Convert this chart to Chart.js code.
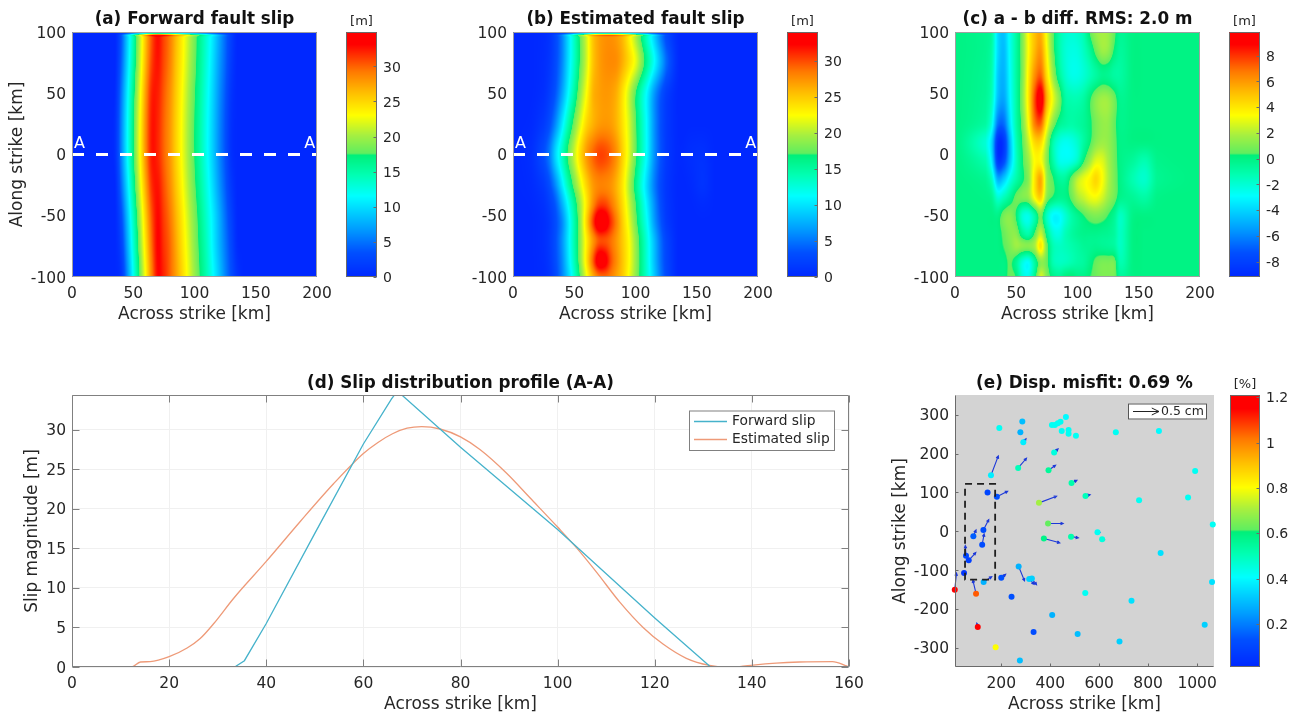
<!DOCTYPE html>
<html>
<head>
<meta charset="utf-8">
<title>Fault slip figure</title>
<script src="https://cdn.jsdelivr.net/npm/chart.js@4/dist/chart.umd.min.js"></script>
<style>
  html, body { margin: 0; padding: 0; background: #fff; }
  #page { position: relative; width: 1297px; height: 712px; overflow: hidden; }
  #page canvas { position: absolute; }
</style>
</head>
<body>
<div id="page"></div>
<script>
// ── tick labels ──────────────────────────────────────────
const fieldTicksX = [0, 50, 100, 150, 200];
const fieldTicksY = [-100, -50, 0, 50, 100];
const barTicksA = [0, 5, 10, 15, 20, 25, 30];
const barTicksB = [0, 5, 10, 15, 20, 25, 30];
const barTicksC = [-8, -6, -4, -2, 0, 2, 4, 6, 8];
const barTicksE = [0.2, 0.4, 0.6, 0.8, 1, 1.2];
const profileTicksX = [0, 20, 40, 60, 80, 100, 120, 140, 160];
const profileTicksY = [0, 5, 10, 15, 20, 25, 30];
const misfitTicksX = [200, 400, 600, 800, 1000];
const misfitTicksY = [-300, -200, -100, 0, 100, 200, 300];

// ── (a) forward slip grid ────────────────────────────────
const slipAX = [0, 30, 35, 40, 45, 50, 55, 60, 65, 70, 75, 80, 85, 90, 95, 100, 105, 110, 115, 120, 125, 130, 135, 140, 200];
const slipAY = [100, 97.5, 96, 75, 50, 25, 0, -25, -50, -75, -100];
const slipARows = [
  [0,0,0,0,0,0,0,0,0,0,0,0,0,0,0,0,0,0,0,0,0,0,0,0,0],
  [0,0,0,3.5,9,14.6,20.3,26,30.5,32.8,31,29.1,26.3,23.7,21.1,18.4,15.8,13.1,10.4,7.4,4.6,1.9,0,0,0],
  [0,0,0,3.5,9,14.6,20.3,26,30.5,32.8,31,29.1,26.3,23.7,21.1,18.4,15.8,13.1,10.4,7.4,4.6,1.9,0,0,0],
  [0,0,0,4,9.5,15.2,20.8,26.5,31,32.6,30.8,28.9,26,23.5,20.8,18.2,15.6,12.8,10,7,4.4,1.6,0,0,0],
  [0,0,.3,5,10.6,16.3,21.9,27.6,32,32.2,30.3,28.3,25.6,23,20.3,17.7,15.1,12.3,9.5,6.5,3.9,1.1,0,0,0],
  [0,0,.6,5.5,11.2,16.9,22.5,28.2,32.4,32,30,28,25.3,22.7,20,17.4,14.8,12,9.2,6.2,3.6,.8,0,0,0],
  [0,0,.6,5.5,11.2,16.9,22.5,28.2,32.4,32,30,28,25.3,22.7,20,17.4,14.8,12,9.2,6.2,3.6,.8,0,0,0],
  [0,0,.1,4.5,10,15.8,21.4,27,31.6,32.6,30.6,28.5,25.8,23.2,20.5,17.9,15.3,12.6,9.8,6.8,4.1,1.4,0,0,0],
  [0,0,0,3,8.4,14.1,19.7,25.4,30.4,33,31.2,29.3,26.6,24,21.3,18.7,16.1,13.4,10.7,7.8,4.9,2.2,.1,0,0],
  [0,0,0,1.9,7.2,12.9,18.6,24.2,29.6,33.2,31.6,29.9,27.2,24.5,21.9,19.2,16.6,14,11,8.1,5.4,2.8,.3,0,0],
  [0,0,0,1,6,11.8,17.5,23.1,28.7,33,32,30,27.6,25,22.4,19.7,17.1,14.5,11.7,8.9,5.9,3.3,1,0,0],
];

// ── (b) estimated slip grid ──────────────────────────────
const slipBX = [0, 15, 25, 30, 35, 40, 45, 50, 55, 60, 65, 70, 75, 80, 85, 90, 95, 100, 105, 110, 115, 120, 125, 135, 145, 155, 165, 200];
const slipBY = [100, 97.5, 96, 75, 50, 25, 0, -25, -40, -55, -70, -87, -100];
const slipBRows = [
  [0,0,0,0,0,0,0,0,0,0,0,0,0,0,0,0,0,0,0,0,0,0,0,0,0,0,0,0],
  [0,0,.3,1,2.8,5.5,9.5,13.5,17.5,21,25,26.8,27.5,27.6,27,25.6,23,20,16.6,13,9.5,6,3,.2,0,0,0,0],
  [0,0,.3,1,2.8,5.5,9.5,13.5,17.5,21,25,26.8,27.5,27.6,27,25.6,23,20,16.6,13,9.5,6,3,.2,0,0,0,0],
  [0,0,.4,1.2,3,5.7,9.7,13.5,17.5,21,25,26.8,27.6,27.8,27.5,26,24,21.8,18.5,15,11.5,8,4.5,.3,0,0,0,0],
  [0,0,.6,1.8,3.8,7,11,15,19,22.4,25.8,26.8,27.2,27,26,23.6,20.6,17.2,13.8,10.5,6.8,4,1.8,0,0,0,0,0],
  [0,.2,1.5,3.2,6.2,10.2,14.3,18,21.4,24.4,26,27,27.3,27,25.8,23.6,21,17.5,14,10.5,6.5,3.6,1.5,0,0,0,0,0],
  [0,.6,3,5.5,9.7,13.4,17.4,20.7,24.2,27.1,29,30.2,30.1,29.1,27.2,24.3,21.2,17.6,14,10.5,6.5,3.7,1.5,.1,.5,.7,0,0],
  [0,.3,1.5,3.2,6.2,10.2,14.3,18,21.4,24.6,27,28,28,27.4,25.8,23.3,19.8,16.2,12.5,9,5.6,3,1.2,0,.2,.9,0,0],
  [0,.1,.8,2,4,7.5,11.5,15.5,19.5,23.5,27.4,30,30.2,28.7,26.5,23.8,20.6,17.2,13.6,10,6.4,3.4,1.3,0,0,.3,0,0],
  [0,0,.5,1.4,3.2,5.8,10,14.5,19,24.5,30,34.5,34,30.8,27.8,24.5,21.5,18,14.4,11,7,4,1.6,0,0,0,0,0],
  [0,0,.5,1.5,3.4,6.2,10.2,14.5,18.8,23.2,27,29.6,29.8,28.8,27,24.8,22.3,19,15.6,12,8.4,5,2.4,0,0,0,0,0],
  [0,0,.4,1.3,3.2,5.8,9.8,14,18.6,23.6,29,33.8,33.2,29.8,27.4,25,22.4,19.2,15.8,12.2,8.6,5.2,2.6,0,0,0,0,0],
  [0,0,.3,1,2.8,5.5,9,13,17.5,22,26,28.5,29,28.2,26.6,24.8,22,19,15.8,12.5,9,5.6,2.8,0,0,0,0,0],
];

// ── (c) difference grid ──────────────────────────────────
const diffX = [0, 25, 30, 35, 40, 45, 50, 55, 60, 65, 70, 75, 80, 85, 90, 95, 100, 105, 110, 115, 120, 125, 130, 135, 145, 155, 165, 200];
const diffY = [100, 85, 65, 45, 25, 10, -5, -20, -35, -50, -65, -75, -88, -100];
const diffRows = [
  [0,-.3,-.8,-3.8,-4.4,-2.5,-.8,1,3.5,5,5.5,3,.6,-1,-1.8,-2,-1.8,-1.2,.4,1.5,1.8,1.6,.6,-.4,0,0,0,0],
  [0,-.3,-1,-3.8,-4.6,-2.6,-.8,1,3.4,5.2,6,3.4,.8,-1,-2,-2.3,-2.2,-1.6,-.6,.7,1.6,1.4,.2,-.6,0,0,0,0],
  [0,-.4,-1.2,-4.2,-4.8,-2.8,-.8,1,3.8,6.2,7.2,4.2,1.6,-.5,-1.8,-2.4,-2.4,-2,-1.4,-.8,-.3,-.4,-.8,-.8,0,0,0,0],
  [0,-.5,-1.5,-4.6,-5.2,-3,-.9,1.2,4,7.6,9.8,5.5,3,1.2,-.8,-1.2,-1.2,-.8,.2,1.2,1.7,1.6,.8,-.3,0,0,0,0],
  [0,-.8,-2.4,-6.4,-6.6,-3.6,-1,.8,3.4,6.6,7.2,3.6,1.2,-.3,-.8,-1,-.8,-.5,.1,.9,1.4,1.4,.6,-.2,0,0,0,0],
  [0,-2,-4,-8.8,-8.4,-4.6,-1.4,.4,2.4,4.4,4.4,1.8,-1,-2.2,-2.6,-2.4,-1.8,-.8,.2,1.2,1.6,1.4,.7,-.1,0,0,0,0],
  [0,-1.2,-3.4,-8.4,-7.6,-4.4,-1.6,.2,1.6,3.4,3.4,1.2,-.9,-2.4,-2.6,-2.4,-1.6,.2,1.6,2.8,2.8,1.8,.8,-.1,-.6,-1.2,-.2,0],
  [0,-.4,-1.6,-5,-4.2,-2.4,-1,.1,1.2,4,5.6,1.6,.4,-.6,-.6,.7,2.2,3,3.6,4.4,3.4,2,.9,-.1,-1.2,-1.8,-.4,0],
  [0,-.1,-.4,-2,-1.4,-.4,.7,1,1.4,3.4,4.6,1.2,.2,-.3,-.2,.6,1.8,2.4,3,3.2,2.6,1.6,.8,-.2,-.5,-.9,-.1,0],
  [0,0,0,-.1,.9,1.2,.2,-2,-2.4,-1,.8,-1.6,-3,-3,-2,-1,-.3,.3,.8,1,.8,.3,-.4,-1.6,-.1,0,0,0],
  [0,0,0,0,.6,1.2,1.2,-.4,-1,.5,2.4,-.2,-2,-2.3,-1.4,-.8,-.4,-.2,-.2,-.2,-.3,-.4,-.7,-1.6,0,0,0,0],
  [0,0,0,0,.4,1,1.6,1.3,1.2,1.8,4,.8,-1.2,-1.6,-1.4,-1.1,-.8,-.5,-.4,-.3,-.4,-.5,-.7,-1.6,0,0,0,0],
  [0,0,0,0,0,.5,-.4,-2.2,-2.8,-.8,1.2,.6,-1.2,-1.6,-1.5,-1.2,-.9,-.7,-.1,.6,.9,.9,.8,-1.2,0,0,0,0],
  [0,0,0,0,0,.6,.2,-2,-2.4,-.4,2.6,1,-.1,-.5,.1,.3,-.1,-.1,.3,.7,1,1,.9,-.6,0,0,0,0],
];

// ── section line A-A ─────────────────────────────────────
const sectionX = [0, 200];
const sectionY = [0, 0];
const sectionLabelX = [6, 194];
const sectionLabelY = [9, 9];

// ── (d) profiles ─────────────────────────────────────────
const forwardX = [0, 33.5, 35.5, 40, 50, 60, 65.8, 67, 80, 100, 120, 131.5, 157, 160];
const forwardY = [0, 0, .8, 5.5, 16.9, 28.2, 33.9, 34.9, 27.8, 17.4, 6.2, 0, 0, 0];
const estimatedX = [0, 12.2, 14.1, 16.1, 20, 23.7, 26.4, 29.2, 33.3, 40, 47, 53.9, 60, 63, 66, 69, 72, 75.8, 80, 84, 89.5, 94.3, 100, 104, 108, 112.8, 117.6, 121.7, 126.5, 131.3, 134.7, 137.5, 140.3, 145, 149.8, 156.6, 159.7];
const estimatedY = [0, 0, .63, .68, 1.3, 2.4, 3.6, 5.5, 8.7, 13.35, 18.4, 23.2, 27, 28.4, 29.5, 30.2, 30.4, 30.1, 29.1, 27.5, 24.5, 21.4, 17.7, 15, 12, 8.2, 5, 2.9, 1.1, .2, 0, .04, .25, .5, .63, .68, .1];

// ── (e) stations ─────────────────────────────────────────
const stationX = [192,286,278,290,464,442,419,407,431,447,475,475,505,416,269,393,158,487,144,182,354,544,391,127,86,122,56,67,48,10,97,128,200,271,314,325,242,543,408,104,332,512,177,276,374,485,593,612,851,1061,732,1031,683,668,844,992,763,963,1064];
const stationY = [266,283,255,229,294,282,274,274,278,258,261,251,246,203,163,157,144,124,100,89,73,91,20,3,-13,-35,-63,-75,-108,-151,-161,-131,-120,-91,-123,-122,-169,-159,-216,-247,-260,-265,-299,-333,-19,-14,-3,-21,-56,-131,-179,-241,-284,255,258,155,80,87,17];
const stationMisfit = [.42,.3,.28,.38,.4,.42,.42,.42,.42,.42,.42,.42,.42,.45,.5,.55,.38,.52,.1,.13,.7,.5,.62,.12,.15,.12,.1,.08,.05,1.15,1.05,.28,.13,.28,.33,.33,.13,.42,.28,1.15,.12,.3,.8,.3,.58,.52,.42,.45,.36,.36,.36,.33,.33,.42,.4,.42,.42,.42,.42];
const arrowDx = [0,0,0,11,0,0,0,0,0,0,0,0,0,16,34,29,30,22,0,44,72,19,62,22,11,8,-3,29,0,7,-13,33,18,24,20,19,0,8,0,-4,0,0,0,0,65,30,10,9,0,0,0,0,0,0,0,0,0,0,0];
const arrowDy = [0,0,0,9,0,0,0,0,0,0,0,0,0,9,25,13,50,7,0,14,17,3,0,27,16,28,26,20,0,43,35,14,9,-37,-14,-16,0,0,0,10,0,0,0,0,-11,-3,0,-1,0,0,0,0,0,0,0,0,0,0,0];
const regionX = [52, 175, 175, 52, 52];
const regionY = [122, 122, -125, -125, 122];

// ── colour map: [fraction, r, g, b], with the step just above green ──
const mapStops = [
  [0, 0, 40, 255], [.1, 0, 80, 255], [.2, 0, 160, 255], [.33, 0, 255, 255], [.42, 0, 255, 176],
  [.497, 0, 240, 122], [.505, 96, 238, 96], [.58, 168, 240, 64], [.66, 255, 255, 0],
  [.75, 255, 192, 0], [.84, 255, 120, 0], [.95, 255, 0, 0], [1, 255, 0, 0],
];

const FONT = "'DejaVu Sans', sans-serif";
const INK = "#262626";
const EDGE = "#808080";

function mapColor(f) {
  f = Math.min(1, Math.max(0, f));
  let i = 0;
  while (i < mapStops.length - 2 && f > mapStops[i + 1][0]) i++;
  const a = mapStops[i], b = mapStops[i + 1];
  const t = (f - a[0]) / (b[0] - a[0]);
  return [a[1] + (b[1] - a[1]) * t, a[2] + (b[2] - a[2]) * t, a[3] + (b[3] - a[3]) * t];
}
const cssColor = f => { const c = mapColor(f); return `rgb(${c[0] | 0},${c[1] | 0},${c[2] | 0})`; };

// float index of value v on a monotonic axis
function axisIndex(axis, v) {
  const dir = axis[1] > axis[0] ? 1 : -1;
  let i = 0;
  while (i < axis.length - 2 && (axis[i + 1] - v) * dir < 0) i++;
  return i + (v - axis[i]) / (axis[i + 1] - axis[i]);
}
function catmull(p0, p1, p2, p3, t) {
  return p1 + .5 * t * (p2 - p0 + t * (2 * p0 - 5 * p1 + 4 * p2 - p3 + t * (3 * (p1 - p2) + p3 - p0)));
}

// shaded grid, placed through the chart's own x / y scales
function fieldPlugin(xs, ys, rows, min, max) {
  let image = null;
  return {
    id: "field",
    beforeDatasetsDraw(chart) {
      const sx = chart.scales.x, sy = chart.scales.y, area = chart.chartArea;
      const w = Math.round(area.right - area.left), h = Math.round(area.bottom - area.top);
      if (!image) {
        image = document.createElement("canvas");
        image.width = w; image.height = h;
        const c = image.getContext("2d"), img = c.createImageData(w, h);
        const clampC = i => Math.min(xs.length - 1, Math.max(0, i));
        const clampR = i => Math.min(ys.length - 1, Math.max(0, i));
        for (let py = 0; py < h; py++) {
          const fr = axisIndex(ys, sy.getValueForPixel(area.top + py + .5));
          const r0 = Math.floor(fr), tr = fr - r0;
          for (let px = 0; px < w; px++) {
            const fc = axisIndex(xs, sx.getValueForPixel(area.left + px + .5));
            const c0 = Math.floor(fc), tc = fc - c0;
            const col = [];
            for (let k = -1; k <= 2; k++) {
              const row = rows[clampR(r0 + k)];
              col.push(catmull(row[clampC(c0 - 1)], row[clampC(c0)], row[clampC(c0 + 1)], row[clampC(c0 + 2)], tc));
            }
            const v = catmull(col[0], col[1], col[2], col[3], tr);
            const rgb = mapColor((v - min) / (max - min));
            const o = (py * w + px) * 4;
            img.data[o] = rgb[0]; img.data[o + 1] = rgb[1]; img.data[o + 2] = rgb[2]; img.data[o + 3] = 255;
          }
        }
        c.putImageData(img, 0, 0);
      }
      chart.ctx.drawImage(image, area.left, area.top);
    },
  };
}

// axis box with short inward ticks, like the MATLAB axes
function framePlugin(opts) {
  return {
    id: "frame",
    afterDatasetsDraw(chart) {
      const { ctx, chartArea: a, scales } = chart;
      ctx.save();
      ctx.strokeStyle = opts.color || EDGE;
      ctx.lineWidth = 1;
      ctx.beginPath();
      const L = Math.round(a.left) + .5, R = Math.round(a.right) - .5, T = Math.round(a.top) + .5, B = Math.round(a.bottom) - .5;
      if (opts.box) { ctx.rect(L, T, R - L, B - T); } else { ctx.moveTo(L, T); ctx.lineTo(L, B); ctx.lineTo(R, B); }
      if (opts.tick && scales.x && scales.x.options.display) {
        scales.x.ticks.forEach(t => {
          const x = Math.round(scales.x.getPixelForValue(t.value)) + .5;
          ctx.moveTo(x, B); ctx.lineTo(x, B - opts.tick);
          if (opts.box) { ctx.moveTo(x, T); ctx.lineTo(x, T + opts.tick); }
        });
      }
      if (opts.tick) {
        scales.y.ticks.forEach(t => {
          const y = Math.round(scales.y.getPixelForValue(t.value)) + .5;
          if (!opts.rightOnly) { ctx.moveTo(L, y); ctx.lineTo(L + opts.tick, y); }
          if (opts.box) { ctx.moveTo(R, y); ctx.lineTo(R - opts.tick, y); }
        });
      }
      ctx.stroke();
      ctx.restore();
    },
  };
}

const sectionLabels = {
  id: "sectionLabels",
  afterDatasetsDraw(chart) {
    const { ctx, scales: { x, y } } = chart;
    ctx.save();
    ctx.fillStyle = "#fff";
    ctx.font = `16px ${FONT}`;
    ctx.textAlign = "center";
    ctx.textBaseline = "middle";
    sectionLabelX.forEach((v, i) => ctx.fillText("A", x.getPixelForValue(v), y.getPixelForValue(sectionLabelY[i])));
    ctx.restore();
  },
};

const colorRamp = {
  id: "colorRamp",
  beforeDatasetsDraw(chart) {
    const { ctx, chartArea: a, scales: { y } } = chart;
    for (let py = Math.round(a.top); py < a.bottom; py++) {
      const v = y.getValueForPixel(py + .5);
      ctx.fillStyle = cssColor((v - y.min) / (y.max - y.min));
      ctx.fillRect(a.left, py, a.right - a.left, 1);
    }
  },
};

const profileLegend = {
  id: "profileLegend",
  afterDatasetsDraw(chart) {
    const { ctx, chartArea: a } = chart;
    const bx = a.right - 160, by = a.top + 15.5;
    ctx.save();
    ctx.fillStyle = "#fff";
    ctx.strokeStyle = EDGE;
    ctx.lineWidth = 1;
    ctx.fillRect(bx, by, 145.5, 40);
    ctx.strokeRect(bx + .5, by + .5, 145, 39.5);
    ctx.font = `13.8px ${FONT}`;
    ctx.textBaseline = "middle";
    chart.data.datasets.forEach((d, i) => {
      const yy = by + 11 + i * 18;
      ctx.strokeStyle = d.borderColor;
      ctx.lineWidth = 1.3;
      ctx.beginPath(); ctx.moveTo(bx + 5, yy); ctx.lineTo(bx + 38, yy); ctx.stroke();
      ctx.fillStyle = INK;
      ctx.fillText(d.label, bx + 43, yy);
    });
    ctx.restore();
  },
};

function drawArrow(ctx, x0, y0, x1, y1, head) {
  const ang = Math.atan2(y1 - y0, x1 - x0);
  ctx.beginPath();
  ctx.moveTo(x0, y0); ctx.lineTo(x1, y1);
  ctx.moveTo(x1 - head * Math.cos(ang - .45), y1 - head * Math.sin(ang - .45));
  ctx.lineTo(x1, y1);
  ctx.lineTo(x1 - head * Math.cos(ang + .45), y1 - head * Math.sin(ang + .45));
  ctx.stroke();
}

const stationArrows = {
  id: "stationArrows",
  beforeDatasetsDraw(chart) {
    const { ctx, scales: { x, y } } = chart;
    ctx.save();
    ctx.strokeStyle = "#1c38d8";
    ctx.lineWidth = 1.1;
    stationX.forEach((sx, i) => {
      if (!arrowDx[i] && !arrowDy[i]) return;
      drawArrow(ctx, x.getPixelForValue(sx), y.getPixelForValue(stationY[i]),
        x.getPixelForValue(sx + arrowDx[i]), y.getPixelForValue(stationY[i] + arrowDy[i]), 3);
    });
    ctx.restore();
  },
  afterDatasetsDraw(chart) {
    const { ctx, chartArea: a } = chart;
    const bx = a.right - 86, by = a.top + 8.5;
    ctx.save();
    ctx.fillStyle = "#fff";
    ctx.strokeStyle = "#555";
    ctx.fillRect(bx, by, 79, 16);
    ctx.strokeRect(bx + .5, by + .5, 78, 15);
    ctx.strokeStyle = "#222";
    drawArrow(ctx, bx + 5, by + 8, bx + 31, by + 8, 8);
    ctx.fillStyle = INK;
    ctx.font = `12.5px ${FONT}`;
    ctx.textBaseline = "middle";
    ctx.fillText("0.5 cm", bx + 33, by + 8.5);
    ctx.restore();
  },
};

// ── helpers ──────────────────────────────────────────────
const zipXY = (xs, ys) => xs.map((x, i) => ({ x, y: ys[i] }));

function axis(pos, min, max, ticks, title, extra, fontSize) {
  return Object.assign({
    type: "linear", position: pos, min, max,
    afterBuildTicks: s => { s.ticks = ticks.map(value => ({ value })); },
    border: { display: false },
    grid: { display: false, drawTicks: false },
    ticks: {
      color: INK, font: { family: FONT, size: fontSize || 15.5 }, padding: pos === "bottom" ? 8 : 6,
      labelOffset: pos === "bottom" ? 0 : 1.5, autoSkip: false, maxRotation: 0, callback: v => String(v),
    },
    title: title ? { display: true, text: title.text, color: INK, padding: title.padding, font: { family: FONT, size: 17, lineHeight: 1.2 } } : { display: false },
  }, extra);
}

// box = plot rectangle on the page; left/bottom reserve room for the axes
function panel(box, cfg) {
  const LEFT = 70, BOTTOM = 50, RIGHT = 32;
  const canvas = document.createElement("canvas");
  canvas.style.left = (box.left - LEFT) + "px";
  canvas.style.top = "0px";
  canvas.width = box.right - box.left + LEFT + RIGHT;
  canvas.height = box.bottom + BOTTOM;
  document.getElementById("page").appendChild(canvas);
  cfg.scales.x.afterFit = s => { s.height = BOTTOM; };
  cfg.scales.y.afterFit = s => { s.width = LEFT; };
  return new Chart(canvas.getContext("2d"), {
    type: "scatter",
    data: { datasets: cfg.datasets },
    plugins: cfg.plugins,
    options: {
      responsive: false, animation: false, events: [],
      layout: { padding: { top: box.top, right: RIGHT } },
      scales: cfg.scales,
      plugins: { legend: { display: false }, tooltip: { enabled: false }, title: { display: false } },
    },
  });
}

function titled(text, cx, cy) {
  const div = document.createElement("div");
  div.textContent = text;
  div.style.cssText = `position:absolute;left:${cx - 300}px;width:600px;top:${cy - 12}px;height:24px;text-align:center;font:bold 16.8px/24px ${FONT};color:#111;white-space:nowrap;`;
  document.getElementById("page").appendChild(div);
}

function colorbar(left, right, top, bottom, min, max, ticks, unit, unitY) {
  const canvas = document.createElement("canvas");
  canvas.style.left = left + "px";
  canvas.style.top = "0px";
  const RIGHT = 46, BELOW = 20;
  canvas.width = right - left + RIGHT;
  canvas.height = bottom + BELOW;
  document.getElementById("page").appendChild(canvas);
  new Chart(canvas.getContext("2d"), {
    type: "scatter",
    data: { datasets: [] },
    plugins: [colorRamp, framePlugin({ box: true, tick: 3, rightOnly: true, color: "#6a6a6a" })],
    options: {
      responsive: false, animation: false, events: [],
      layout: { padding: { top, bottom: BELOW } },
      scales: {
        x: { display: false, min: 0, max: 1 },
        y: axis("right", min, max, ticks, null, { afterFit: s => { s.width = RIGHT; } }, 14),
      },
      plugins: { legend: { display: false }, tooltip: { enabled: false } },
    },
  });
  const div = document.createElement("div");
  div.textContent = unit;
  div.style.cssText = `position:absolute;left:${left - 20}px;width:${right - left + 40}px;top:${unitY - 10}px;text-align:center;font:13px/20px ${FONT};color:${INK};`;
  document.getElementById("page").appendChild(div);
}

const sectionSet = () => [{
  data: zipXY(sectionX, sectionY), showLine: true, borderColor: "#fff", borderWidth: 3,
  borderDash: [12, 12], pointRadius: 0, clip: false,
}];

// ── (a) ──────────────────────────────────────────────────
panel({ left: 72, right: 317, top: 32, bottom: 277 }, {
  datasets: sectionSet(),
  plugins: [fieldPlugin(slipAX, slipAY, slipARows, 0, 34.9), framePlugin({ box: true, color: "#a0a0a0" }), sectionLabels],
  scales: {
    x: axis("bottom", 0, 200, fieldTicksX, { text: "Across strike [km]", padding: { bottom: 2 } }),
    y: axis("left", -100, 100, fieldTicksY, { text: "Along strike [km]", padding: { top: 5.5 } }),
  },
});
colorbar(346, 377, 32, 277, 0, 34.9, barTicksA, "[m]", 21);
titled("(a) Forward fault slip", 194.5, 18);

// ── (b) ──────────────────────────────────────────────────
panel({ left: 513, right: 758, top: 32, bottom: 277 }, {
  datasets: sectionSet(),
  plugins: [fieldPlugin(slipBX, slipBY, slipBRows, 0, 34), framePlugin({ box: true, color: "#a0a0a0" }), sectionLabels],
  scales: {
    x: axis("bottom", 0, 200, fieldTicksX, { text: "Across strike [km]", padding: { bottom: 2 } }),
    y: axis("left", -100, 100, fieldTicksY, null),
  },
});
colorbar(787, 818, 32, 277, 0, 34, barTicksB, "[m]", 21);
titled("(b) Estimated fault slip", 635.5, 18);

// ── (c) ──────────────────────────────────────────────────
panel({ left: 955, right: 1200, top: 32, bottom: 277 }, {
  datasets: [],
  plugins: [fieldPlugin(diffX, diffY, diffRows, -9.19, 9.84), framePlugin({ box: true, color: "#a0a0a0" })],
  scales: {
    x: axis("bottom", 0, 200, fieldTicksX, { text: "Across strike [km]", padding: { bottom: 2 } }),
    y: axis("left", -100, 100, fieldTicksY, null),
  },
});
colorbar(1229, 1260, 32, 277, -9.19, 9.84, barTicksC, "[m]", 21);
titled("(c) a - b diff. RMS: 2.0 m", 1077.5, 18);

// ── (d) ──────────────────────────────────────────────────
const profileGrid = { display: true, color: "#f0f0f0", lineWidth: 1, drawTicks: false };
panel({ left: 72, right: 849, top: 395, bottom: 667 }, {
  datasets: [
    { label: "Forward slip", data: zipXY(forwardX, forwardY), showLine: true, borderColor: "#45b2cb", borderWidth: 1.3, pointRadius: 0, tension: 0 },
    { label: "Estimated slip", data: zipXY(estimatedX, estimatedY), showLine: true, borderColor: "#ee9a78", borderWidth: 1.3, pointRadius: 0, cubicInterpolationMode: "monotone" },
  ],
  plugins: [framePlugin({ box: true, tick: 7 }), profileLegend],
  scales: {
    x: axis("bottom", 0, 160, profileTicksX, { text: "Across strike [km]", padding: { bottom: 2 } }, { grid: profileGrid }),
    y: axis("left", 0, 34.4, profileTicksY, { text: "Slip magnitude [m]", padding: { top: 20.8 } }, { grid: profileGrid }),
  },
});
titled("(d) Slip distribution profile (A-A)", 460.5, 382);

// ── (e) ──────────────────────────────────────────────────
const plotBackground = {
  id: "plotBackground",
  beforeDatasetsDraw(chart) {
    const { ctx, chartArea: a } = chart;
    ctx.fillStyle = "#d3d3d3";
    ctx.fillRect(a.left, a.top, a.right - a.left, a.bottom - a.top);
  },
};
panel({ left: 955, right: 1214, top: 395, bottom: 667 }, {
  datasets: [
    { data: zipXY(regionX, regionY), showLine: true, borderColor: "#1f1f1f", borderWidth: 1.8, borderDash: [7, 5], pointRadius: 0, clip: false },
    { data: zipXY(stationX, stationY), pointRadius: 3, pointBorderWidth: 0, clip: false,
      pointBackgroundColor: stationMisfit.map(m => cssColor((m - .01) / 1.2)) },
  ],
  plugins: [plotBackground, stationArrows, framePlugin({ tick: 3, color: "#6a6a6a" })],
  scales: {
    x: axis("bottom", 11, 1069, misfitTicksX, { text: "Across strike [km]", padding: { bottom: 2 } }),
    y: axis("left", -350, 351, misfitTicksY, { text: "Along strike [km]", padding: { top: 5.2 } }),
  },
});
colorbar(1230, 1260, 395, 667, .01, 1.21, barTicksE, "[%]", 384);
titled("(e) Disp. misfit: 0.69 %", 1084.5, 382);
</script>
</body>
</html>
